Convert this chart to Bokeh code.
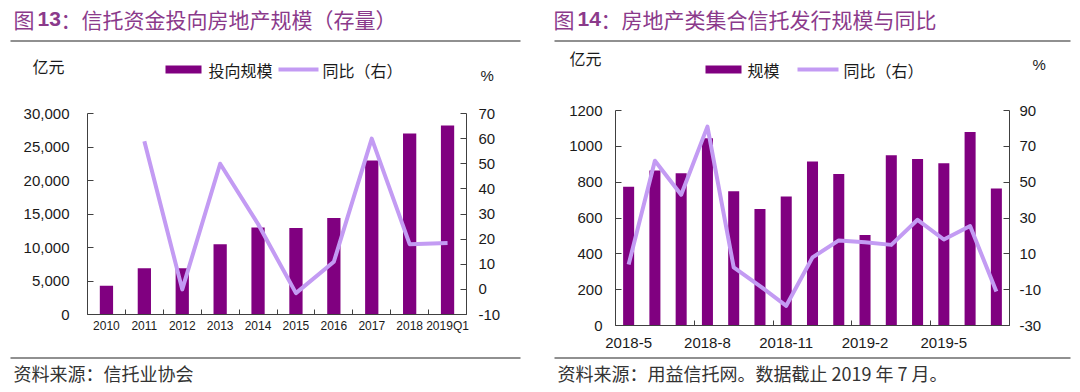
from bokeh.plotting import figure
from bokeh.models import (Range1d, LinearAxis, FixedTicker, NumeralTickFormatter,
                          Label, BoxAnnotation)
from bokeh.layouts import row, column
from bokeh.embed import file_html
from bokeh.resources import INLINE

# ---------------- data: figure 13 (stock of trust funds into real estate) ----------------
c13_categories = ["2010", "2011", "2012", "2013", "2014", "2015", "2016", "2017", "2018", "2019Q1"]
c13_scale = [4300, 6900, 6900, 10500, 13000, 12900, 14400, 23000, 27000, 28200]
c13_yoy = [float("nan"), 59.0, 0.0, 50.0, 26.0, -1.5, 11.0, 60.0, 18.0, 18.5]
c13_left_ticks = [0, 5000, 10000, 15000, 20000, 25000, 30000]
c13_right_ticks = [-10, 0, 10, 20, 30, 40, 50, 60, 70]

# ---------------- data: figure 14 (real-estate collective trust issuance) ----------------
c14_categories = ["2018-5", "2018-6", "2018-7", "2018-8", "2018-9", "2018-10", "2018-11",
                  "2018-12", "2019-1", "2019-2", "2019-3", "2019-4", "2019-5", "2019-6", "2019-7"]
c14_scale = [775, 865, 850, 1045, 750, 650, 720, 915, 845, 505, 950, 930, 905, 1080, 765]
c14_yoy = [4.0, 62.0, 43.0, 81.0, 2.5, -8.0, -19.0, 8.0, 17.5, 16.5, 15.0, 29.0, 18.0, 25.5, -11.0]
c14_tick_labels = ["2018-5", "2018-8", "2018-11", "2019-2", "2019-5"]
c14_left_ticks = [0, 200, 400, 600, 800, 1000, 1200]
c14_right_ticks = [-30, -10, 10, 30, 50, 70, 90]

# ---------------- style ----------------
SANS = "Liberation Sans"
CJK = "Noto Sans CJK SC"
BAR = "#800080"
LINE = "#C39BF3"
AXIS = "#404040"
TXT = "#1a1a1a"
TITLE = "#8B3A8B"
SRC = "#333333"
RULE = "#222222"

W = 540
H_HEAD, H_CHART, H_FOOT = 92, 263, 37


def style_y(ax, size, standoff):
    ax.axis_line_color = AXIS
    ax.major_tick_line_color = AXIS
    ax.major_tick_in = 6
    ax.major_tick_out = 0
    ax.minor_tick_line_color = None
    ax.major_label_text_font = SANS
    ax.major_label_text_font_size = f"{size}px"
    ax.major_label_text_color = TXT
    ax.major_label_standoff = standoff


def style_x(ax, size, standoff):
    ax.axis_line_color = AXIS
    ax.major_tick_line_color = None
    ax.major_tick_in = 0
    ax.major_tick_out = 0
    ax.minor_tick_line_color = AXIS
    ax.minor_tick_in = 5
    ax.minor_tick_out = 0
    ax.major_label_text_font = SANS
    ax.major_label_text_font_size = f"{size}px"
    ax.major_label_text_color = TXT
    ax.major_label_standoff = standoff


def finish(p):
    p.outline_line_color = None
    p.background_fill_color = "white"
    p.border_fill_color = "white"
    p.frame_align = False
    for g in p.grid:
        g.visible = False
    return p


def plain(x0, y0, h):
    """an axis-less figure whose data coordinates equal page pixels"""
    p = figure(width=W, height=h, x_range=Range1d(x0, x0 + W), y_range=Range1d(y0 + h, y0),
               output_backend="svg", toolbar_location=None, tools="",
               x_axis_location=None, y_axis_location=None,
               min_border_left=0, min_border_right=0, min_border_top=0, min_border_bottom=0)
    return finish(p)


def text(p, x, y, txt, size, color=TXT, font=CJK, style="normal"):
    p.add_layout(Label(x=x, y=y, text=txt, text_font=font, text_font_size=f"{size}px",
                       text_font_style=style, text_color=color,
                       text_align="left", text_baseline="middle"))


def box(p, x0, x1, y0, y1, color):
    p.add_layout(BoxAnnotation(left=x0, right=x1, top=y0, bottom=y1,
                               fill_color=color, fill_alpha=1.0, line_color=None,
                               level="overlay"))


def chart(n, yr, yr2, borders):
    l, r, t, b = borders
    p = figure(width=W, height=H_CHART, x_range=Range1d(0, n), y_range=Range1d(*yr),
               output_backend="svg", toolbar_location=None, tools="",
               x_axis_location=None, y_axis_location=None,
               min_border_left=l, min_border_right=r, min_border_top=t, min_border_bottom=b)
    p.extra_y_ranges = {"yoy": Range1d(*yr2)}
    return finish(p)


# ======================= figure 13 =======================
n13 = len(c13_categories)
x13 = [i + 0.5 for i in range(n13)]
p1 = chart(n13, (0, 30000), (-10, 70), (87, 74, 21, 41))
p1.vbar(x=x13, top=c13_scale, width=0.35, fill_color=BAR, line_color=None)
p1.line(x=x13, y=c13_yoy, y_range_name="yoy", line_color=LINE, line_width=4, line_join="round")

ax = LinearAxis(ticker=FixedTicker(ticks=x13, minor_ticks=list(range(n13 + 1))),
                major_label_overrides={x: c for x, c in zip(x13, c13_categories)})
style_x(ax, 12, 4)
p1.add_layout(ax, "below")
ay = LinearAxis(ticker=FixedTicker(ticks=c13_left_ticks), formatter=NumeralTickFormatter(format="0,0"))
style_y(ay, 15, 18)
p1.add_layout(ay, "left")
ay2 = LinearAxis(y_range_name="yoy", ticker=FixedTicker(ticks=c13_right_ticks),
                 formatter=NumeralTickFormatter(format="0"))
style_y(ay2, 15, 12)
p1.add_layout(ay2, "right")

h1 = plain(0, 0, H_HEAD)
text(h1, 13, 18, "图", 21, TITLE)
text(h1, 37, 18, "13", 21, TITLE, SANS, "bold")
text(h1, 60, 18, "：信托资金投向房地产规模（存量）", 21, TITLE)
box(h1, 10, 520, 40, 41, RULE)
text(h1, 32, 65, "亿元", 16)
box(h1, 165, 201, 65, 73, BAR)
text(h1, 208, 69, "投向规模", 16)
box(h1, 278, 318, 67, 71, LINE)
text(h1, 322, 69, "同比（右）", 16)
text(h1, 480, 75, "%", 15, TXT, SANS)

f1 = plain(0, H_HEAD + H_CHART, H_FOOT)
box(f1, 10, 520, 357, 358, RULE)
text(f1, 13, 372, "资料来源：信托业协会", 18, SRC)

# ======================= figure 14 =======================
n14 = len(c14_categories)
x14 = [i + 0.5 for i in range(n14)]
p2 = chart(n14, (0, 1200), (-30, 90), (75, 71, 18, 30))
p2.vbar(x=x14, top=c14_scale, width=0.42, fill_color=BAR, line_color=None)
p2.line(x=x14, y=c14_yoy, y_range_name="yoy", line_color=LINE, line_width=4, line_join="round")

lab_idx = [c14_categories.index(t) for t in c14_tick_labels]
ax = LinearAxis(ticker=FixedTicker(ticks=[i + 0.5 for i in lab_idx], minor_ticks=lab_idx + [n14]),
                major_label_overrides={i + 0.5: t for i, t in zip(lab_idx, c14_tick_labels)})
style_x(ax, 15, 12)
p2.add_layout(ax, "below")
ay = LinearAxis(ticker=FixedTicker(ticks=c14_left_ticks), formatter=NumeralTickFormatter(format="0"))
style_y(ay, 15, 13)
p2.add_layout(ay, "left")
ay2 = LinearAxis(y_range_name="yoy", ticker=FixedTicker(ticks=c14_right_ticks),
                 formatter=NumeralTickFormatter(format="0"))
style_y(ay2, 15, 10)
p2.add_layout(ay2, "right")

h2 = plain(W, 0, H_HEAD)
text(h2, 553, 18, "图", 21, TITLE)
text(h2, 577, 18, "14", 21, TITLE, SANS, "bold")
text(h2, 600, 18, "：房地产类集合信托发行规模与同比", 21, TITLE)
box(h2, 554, 1070, 40, 41, RULE)
text(h2, 569, 57, "亿元", 16)
box(h2, 705, 741, 65, 73, BAR)
text(h2, 747, 69, "规模", 16)
box(h2, 797, 838, 67, 71, LINE)
text(h2, 843, 69, "同比（右）", 16)
text(h2, 1032, 64, "%", 15, TXT, SANS)

f2 = plain(W, H_HEAD + H_CHART, H_FOOT)
box(f2, 554, 1070, 357, 358, RULE)
text(f2, 557, 372, "资料来源：用益信托网。数据截止 2019 年 7 月。", 18, SRC)

layout = row(column(h1, p1, f1), column(h2, p2, f2))
open("out.html", "w").write(file_html(layout, INLINE, "chart"))
